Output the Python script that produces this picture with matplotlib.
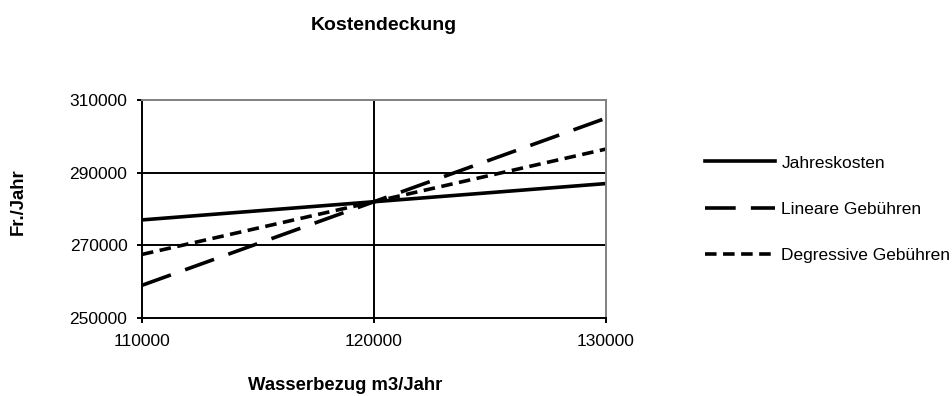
import matplotlib
matplotlib.use("Agg")
import matplotlib.pyplot as plt

plt.rcParams['font.family'] = ['Liberation Sans', 'DejaVu Sans']

# Daten
wasserbezug = [110000, 120000, 130000]
jahreskosten = [277000, 282000, 287000]
lineare = [259000, 282000, 305000]
degressive = [267500, 282000, 296500]
labels = ['Jahreskosten', 'Lineare Gebühren', 'Degressive Gebühren']

fig = plt.figure(figsize=(9.52, 3.96), dpi=100)
ax = fig.add_axes([142/952, 1-318/396, (606-142)/952, (318-100)/396])

lw = 2.6
ax.plot(wasserbezug, jahreskosten, color='black', lw=lw, label=labels[0])
ax.plot(wasserbezug, lineare, color='black', lw=lw, dashes=(8.5, 4.2), label=labels[1])
ax.plot(wasserbezug, degressive, color='black', lw=lw, dashes=(3.2, 1.8), label=labels[2])

ax.set_xlim(110000, 130000)
ax.set_ylim(250000, 310000)
ax.set_xticks([110000, 120000, 130000])
ax.set_yticks([250000, 270000, 290000, 310000])

# Gitter
for v in [270000, 290000]:
    ax.axhline(v, color='black', lw=1.4, zorder=1)
ax.axvline(120000, color='black', lw=1.4, zorder=1)

for s in ['left', 'bottom']:
    ax.spines[s].set_color('black')
    ax.spines[s].set_linewidth(1.4)
for s in ['top', 'right']:
    ax.spines[s].set_color('#808080')
    ax.spines[s].set_linewidth(1.4)

ax.tick_params(axis='both', direction='out', length=3.5, width=1.4, color='black',
               labelsize=12.5)
ax.tick_params(axis='y', pad=7)
ax.tick_params(axis='x', pad=8)

fig.text(384/952, 1-25/396, 'Kostendeckung', ha='center', va='center',
         fontsize=14, fontweight='bold')
fig.text(18/952, 1-202/396, 'Fr./Jahr', ha='center', va='center', rotation=90,
         fontsize=13.3, fontweight='bold')
fig.text(345/952, 1-386/396, 'Wasserbezug m3/Jahr', ha='center', va='center',
         fontsize=13.3, fontweight='bold')

leg = ax.legend(loc='center left', bbox_to_anchor=(705/952, 1-209/396),
                bbox_transform=fig.transFigure, frameon=False, fontsize=12.5,
                handlelength=4.05, handletextpad=0.35, labelspacing=1.78,
                borderpad=0, borderaxespad=0)

fig.savefig('out.png', dpi=100)
